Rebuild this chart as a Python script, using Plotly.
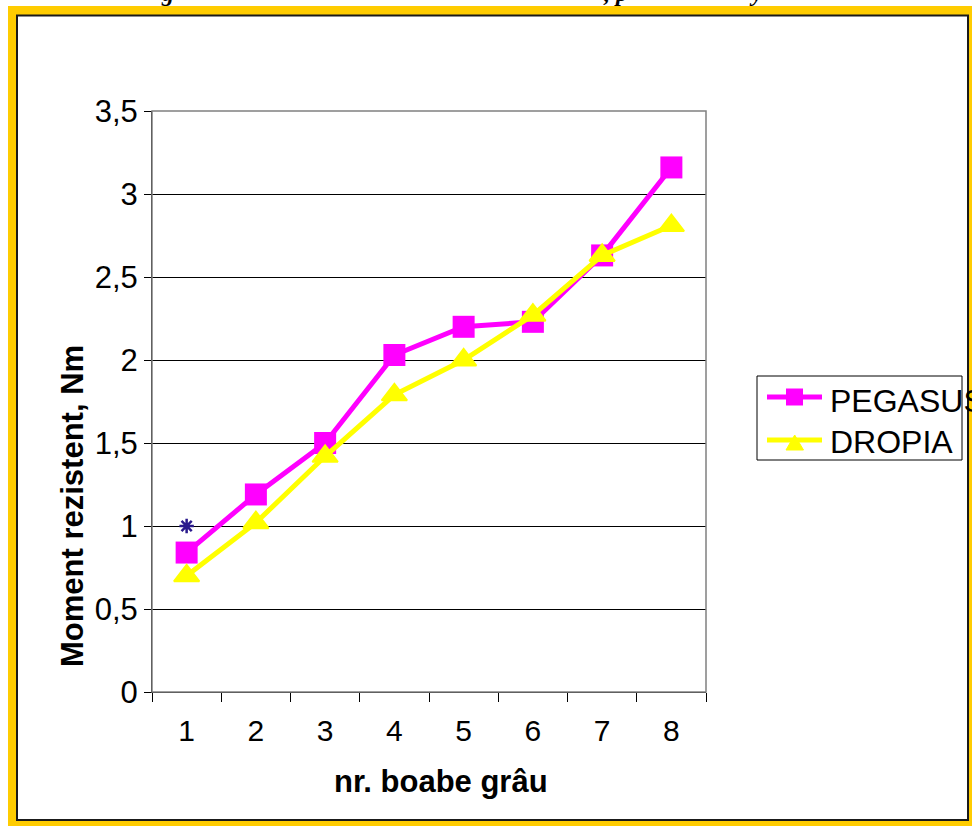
import plotly.graph_objects as go

# Number of wheat grains (categories) and resisting moment per variety
categories = ["1", "2", "3", "4", "5", "6", "7", "8"]
pegasus = [0.84, 1.19, 1.50, 2.03, 2.20, 2.23, 2.63, 3.16]
dropia = [0.70, 1.02, 1.42, 1.79, 2.00, 2.27, 2.63, 2.81]
extra_x = ["1"]
extra_y = [1.0]

series_names = ["PEGASUS", "DROPIA"]
series_colors = ["#FF00FF", "#FFFF00"]

y_ticks = [0, 0.5, 1, 1.5, 2, 2.5, 3, 3.5]
y_labels = ["0", "0,5", "1", "1,5", "2", "2,5", "3", "3,5"]

W, H = 972, 827
L, R, T, B = 152, 706, 111, 692  # plot area in pixels


def px(x):
    return (x - L) / (R - L)


def py(y):
    return (B - y) / (B - T)


FONT = "Liberation Sans, Arial, sans-serif"

fig = go.Figure()
fig.add_trace(go.Scatter(
    x=categories, y=pegasus, name=series_names[0], mode="lines+markers",
    line=dict(color=series_colors[0], width=5),
    marker=dict(symbol="square", size=22, color=series_colors[0]),
))
fig.add_trace(go.Scatter(
    x=categories, y=dropia, name=series_names[1], mode="lines+markers",
    line=dict(color=series_colors[1], width=5),
    marker=dict(symbol="triangle-up", size=22, color=series_colors[1],
                line=dict(color=series_colors[1], width=2)),
))
fig.add_trace(go.Scatter(
    x=extra_x, y=extra_y, mode="markers", showlegend=False,
    marker=dict(symbol="asterisk-open", size=12, color="#2A1A8C",
                line=dict(color="#2A1A8C", width=2.5)),
))

shapes = [
    # yellow frame and white inner page
    dict(type="rect", xref="paper", yref="paper", layer="below",
         x0=px(8), x1=px(972), y0=py(826), y1=py(6),
         fillcolor="#FFCC00", line=dict(width=0)),
    dict(type="rect", xref="paper", yref="paper", layer="below",
         x0=px(17), x1=px(968), y0=py(820), y1=py(15.5),
         fillcolor="#FFFFFF", line=dict(color="#1A1A1A", width=2)),
    # grey plot-area border
    dict(type="rect", xref="paper", yref="paper", layer="above",
         x0=0, x1=1, y0=0, y1=1,
         fillcolor="rgba(0,0,0,0)", line=dict(color="#808080", width=1.5)),
    # legend box
    dict(type="rect", xref="paper", yref="paper", layer="above",
         x0=px(757), x1=px(962), y0=py(460), y1=py(376),
         fillcolor="#FFFFFF", line=dict(color="#000000", width=1)),
    # legend swatches
    dict(type="line", xref="paper", yref="paper", layer="above",
         x0=px(767), x1=px(822), y0=py(397), y1=py(397),
         line=dict(color=series_colors[0], width=5)),
    dict(type="rect", xref="paper", yref="paper", layer="above",
         x0=px(786), x1=px(803), y0=py(405.5), y1=py(388.5),
         fillcolor=series_colors[0], line=dict(width=0)),
    dict(type="line", xref="paper", yref="paper", layer="above",
         x0=px(767), x1=px(822), y0=py(440), y1=py(440),
         line=dict(color=series_colors[1], width=5)),
    dict(type="path", xref="paper", yref="paper", layer="above",
         path=(f"M {px(786)} {py(450)} L {px(803.5)} {py(450)} "
               f"L {px(794.7)} {py(435)} Z"),
         fillcolor=series_colors[1], line=dict(color=series_colors[1], width=1)),
]

annotations = [
    dict(text="<b>Moment rezistent, Nm</b>", xref="paper", yref="paper",
         x=px(72), y=py(506), xanchor="center", yanchor="middle",
         textangle=-90, showarrow=False,
         font=dict(family=FONT, size=31, color="#000000")),
    dict(text="<b>nr. boabe grâu</b>", xref="paper", yref="paper",
         x=px(441), y=py(781), xanchor="center", yanchor="middle",
         showarrow=False,
         font=dict(family=FONT, size=31, color="#000000")),
    dict(text=series_names[0], xref="paper", yref="paper",
         x=px(828), y=py(401), xanchor="left", yanchor="middle",
         showarrow=False, font=dict(family=FONT, size=32, color="#000000")),
    dict(text=series_names[1], xref="paper", yref="paper",
         x=px(828), y=py(442), xanchor="left", yanchor="middle",
         showarrow=False, font=dict(family=FONT, size=32, color="#000000")),
]
# caption line above the frame (only its lower part falls inside the page)
for txt, xp in [("g", 167), (", p", 615), ("y", 756)]:
    annotations.append(dict(
        text=f"<b><i>{txt}</i></b>", xref="paper", yref="paper",
        x=px(xp), y=py(8), xanchor="center", yanchor="bottom",
        showarrow=False,
        font=dict(family="Liberation Serif, Times New Roman, serif",
                  size=24, color="#000000")))

fig.update_layout(
    width=W, height=H,
    margin=dict(l=L, r=W - R, t=T, b=H - B),
    paper_bgcolor="#FFFFFF", plot_bgcolor="rgba(0,0,0,0)",
    font=dict(family=FONT, size=31, color="#000000"),
    shapes=shapes, annotations=annotations,
    showlegend=False,
)
fig.update_xaxes(
    type="category", tickson="boundaries", ticks="outside", ticklen=9,
    tickcolor="#000000", showline=True, linecolor="#000000", linewidth=1,
    showgrid=False, range=[-0.5, 7.5], ticklabelstandoff=12,
    tickfont=dict(family=FONT, size=30),
)
fig.update_yaxes(
    range=[0, 3.5], tickvals=y_ticks, ticktext=y_labels,
    ticks="outside", ticklen=7, tickcolor="#000000",
    showline=True, linecolor="#000000", linewidth=1,
    showgrid=True, gridcolor="#000000", gridwidth=1, zeroline=False,
    tickfont=dict(family=FONT, size=31),
)

fig.write_html("out.html")
